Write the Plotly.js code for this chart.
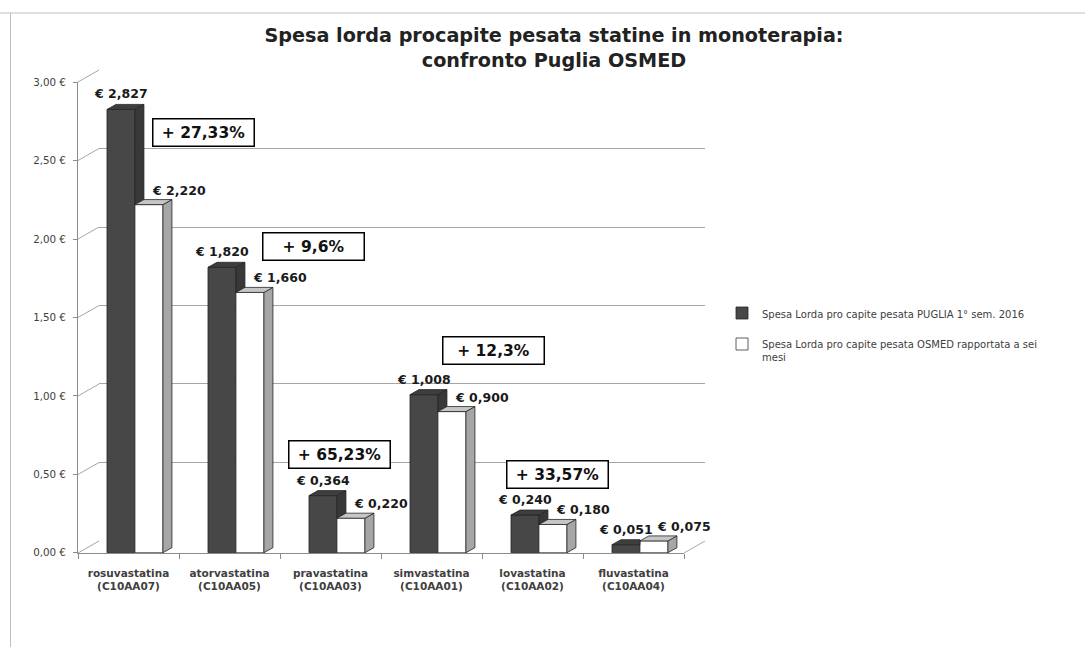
<!DOCTYPE html>
<html>
<head>
<meta charset="utf-8">
<script src="https://cdn.plot.ly/plotly-3.0.1.min.js"></script>
<style>html,body{margin:0;padding:0;background:#fff;}#chart{width:1085px;height:647px;}</style>
</head>
<body>
<div id="chart"></div>
<script>
// ---------- data ----------
const drugs = ['rosuvastatina', 'atorvastatina', 'pravastatina', 'simvastatina', 'lovastatina', 'fluvastatina'];
const atcCodes = ['C10AA07', 'C10AA05', 'C10AA03', 'C10AA01', 'C10AA02', 'C10AA04'];
const puglia = [2.827, 1.820, 0.364, 1.008, 0.240, 0.051];
const osmed = [2.220, 1.660, 0.220, 0.900, 0.180, 0.075];
const diffLabels = ['+ 27,33%', '+ 9,6%', '+ 65,23%', '+ 12,3%', '+ 33,57%', '- 32,25%'];
const seriesNames = ['Spesa Lorda pro capite pesata PUGLIA 1° sem. 2016',
                     'Spesa Lorda pro capite pesata OSMED rapportata a sei<br>mesi'];
const yTicks = [0, 0.5, 1, 1.5, 2, 2.5, 3];
const yTickText = ['0,00 €', '0,50 €', '1,00 €', '1,50 €', '2,00 €', '2,50 €', '3,00 €'];

// ---------- layout constants (pixels / offsets) ----------
const W = 1085, H = 647;
const FRONT = {x0: 78, x1: 684, y0: 553, y1: 82};
const BACK = {x0: 99, x1: 705, y0: 541, y1: 70};
const BAR_W = 0.277, OFF_A = -0.213, OFF_B = 0.064;
const DX = 0.089, DY = 0.032;           // depth of bars in data units
const diffBoxX = [0.747, 1.827, 2.094, 3.609, 4.243, 5.748];
const diffBoxY = [2.68, 1.955, 0.625, 1.287, 0.497, 0.331];

const px = v => v / W;
const py = v => 1 - v / H;
const idx = drugs.map((d, i) => i);
const fmtEuro = v => '€ ' + v.toFixed(3).replace('.', ',');

// ---------- 3D faces built from the data ----------
function faces() {
  const aTop = {x: [], y: []}, aSide = {x: [], y: []}, bTop = {x: [], y: []}, bSide = {x: [], y: []};
  const push = (o, pts) => {
    pts.concat([pts[0]]).forEach(p => { o.x.push(p[0]); o.y.push(p[1]); });
    o.x.push(null); o.y.push(null);
  };
  idx.forEach(i => {
    const v = puglia[i], w = osmed[i];
    const al = i + OFF_A, ar = al + BAR_W;
    const bl = i + OFF_B, br = bl + BAR_W;
    if (v > w) {
      push(aTop, [[al, v], [al + DX, v + DY], [ar + DX, v + DY], [ar, v]]);
      push(aSide, [[ar, w], [ar + DX, w + DY], [ar + DX, v + DY], [ar, v]]);
    } else {
      push(aTop, [[al, v], [al + DX, v + DY], [ar, v + DY], [ar, v]]);
    }
    push(bSide, [[br, 0], [br + DX, DY], [br + DX, w + DY], [br, w]]);
    push(bTop, [[bl, w], [bl + DX, w + DY], [br + DX, w + DY], [br, w]]);
  });
  return {aTop, aSide, bTop, bSide};
}
const F = faces();
const faceTrace = (o, fill) => ({
  type: 'scatter', mode: 'lines', x: o.x, y: o.y, xaxis: 'x2', yaxis: 'y2',
  fill: 'toself', fillcolor: fill, line: {color: '#262626', width: 0.8},
  showlegend: false, hoverinfo: 'skip'
});

const data = [
  {type: 'scatter', x: [null], y: [null], xaxis: 'x', yaxis: 'y', showlegend: false, hoverinfo: 'skip'},
  {type: 'bar', name: seriesNames[0], legendgroup: 'a', x: idx, y: puglia, xaxis: 'x2', yaxis: 'y2',
   width: BAR_W, offset: OFF_A, marker: {color: '#474747', line: {color: '#262626', width: 0.8}}},
  {type: 'bar', name: seriesNames[1], legendgroup: 'b', x: idx, y: osmed, xaxis: 'x2', yaxis: 'y2',
   width: BAR_W, offset: OFF_B, marker: {color: '#ffffff', line: {color: '#333333', width: 0.8}}},
  faceTrace(F.aTop, '#3e3e3e'),
  faceTrace(F.aSide, '#383838'),
  faceTrace(F.bSide, '#a6a6a6'),
  faceTrace(F.bTop, '#c6c6c6')
];

// ---------- annotations ----------
const labelFont = {family: 'DejaVu Sans', size: 12.5, color: '#1a1a1a', weight: 'bold'};
const annotations = [];
idx.forEach(i => {
  annotations.push({xref: 'x2', yref: 'y2', x: i + OFF_A + BAR_W / 2, y: puglia[i], yanchor: 'bottom', yshift: 6,
    text: fmtEuro(puglia[i]), showarrow: false, font: labelFont});
  annotations.push({xref: 'x2', yref: 'y2', x: i + OFF_B + BAR_W / 2, y: osmed[i], yanchor: 'bottom', yshift: 5, xshift: 30,
    text: fmtEuro(osmed[i]), showarrow: false, font: labelFont});
  annotations.push({xref: 'x2', yref: 'y2', x: diffBoxX[i], y: diffBoxY[i], xanchor: 'center', yanchor: 'middle',
    text: diffLabels[i], showarrow: false, bgcolor: '#ffffff', bordercolor: '#000000', borderwidth: 1.5, borderpad: 4, width: 92,
    font: {family: 'DejaVu Sans', size: 15.5, color: '#111111', weight: 'bold'}});
});

// ---------- decorative wall edges ----------
const fy = t => py(FRONT.y0 + (FRONT.y1 - FRONT.y0) * t / 3);
const by = t => py(BACK.y0 + (BACK.y1 - BACK.y0) * t / 3);
const shapes = yTicks.map(t => ({type: 'line', xref: 'paper', yref: 'paper', x0: px(FRONT.x0), y0: fy(t), x1: px(BACK.x0), y1: by(t),
  line: {color: '#a6a6a6', width: 1}}));
shapes.push({type: 'line', xref: 'paper', yref: 'paper', x0: px(FRONT.x1), y0: fy(0), x1: px(BACK.x1), y1: by(0), line: {color: '#a6a6a6', width: 1}});
shapes.push({type: 'line', xref: 'paper', yref: 'paper', x0: 0, y0: py(13), x1: 1, y1: py(13), line: {color: '#c0c0c0', width: 1}});
shapes.push({type: 'line', xref: 'paper', yref: 'paper', x0: px(10.5), y0: py(13), x1: px(10.5), y1: 0, line: {color: '#c0c0c0', width: 1}});

const layout = {
  width: W, height: H,
  margin: {l: 0, r: 0, t: 0, b: 0},
  paper_bgcolor: '#ffffff', plot_bgcolor: 'rgba(0,0,0,0)',
  separators: ',.',
  barmode: 'overlay',
  title: {text: 'Spesa lorda procapite pesata statine in monoterapia:<br>confronto Puglia OSMED',
    x: px(554), xanchor: 'center', y: py(42), yanchor: 'middle', xref: 'paper', yref: 'container',
    font: {family: 'DejaVu Sans', size: 19.2, color: '#222222', weight: 'bold'}},
  xaxis: {domain: [px(BACK.x0), px(BACK.x1)], range: [-0.5, 5.5], visible: false, anchor: 'y', fixedrange: true},
  yaxis: {domain: [py(BACK.y0), py(BACK.y1)], range: [-0.002, 3.002], anchor: 'x', showgrid: true,
    gridcolor: '#a6a6a6', gridwidth: 1, tickvals: yTicks, showticklabels: false, ticks: '', zeroline: false, showline: false},
  xaxis2: {domain: [px(FRONT.x0), px(FRONT.x1)], range: [-0.5, 5.5], anchor: 'y2',
    tickmode: 'array', tickvals: idx, ticktext: drugs.map((d, i) => d + '<br>(' + atcCodes[i] + ')'),
    ticks: '', ticklabelstandoff: 10, showline: true, linecolor: '#8c8c8c', linewidth: 1, showgrid: false, zeroline: false,
    minor: {tickmode: 'array', tickvals: [-0.5, 0.5, 1.5, 2.5, 3.5, 4.5, 5.5], ticks: 'outside', ticklen: 5, tickcolor: '#8c8c8c', showgrid: false},
    tickfont: {family: 'DejaVu Sans', size: 10.5, color: '#404040', weight: 'bold'}},
  yaxis2: {domain: [py(FRONT.y0), py(FRONT.y1)], range: [-0.002, 3.002], anchor: 'x2',
    tickmode: 'array', tickvals: yTicks, ticktext: yTickText,
    ticks: 'outside', ticklen: 4, ticklabelstandoff: 5, tickcolor: '#8c8c8c', showline: true, linecolor: '#8c8c8c', linewidth: 1,
    showgrid: false, zeroline: false,
    tickfont: {family: 'DejaVu Sans', size: 10.3, color: '#404040'}},
  legend: {x: px(722), y: py(300), xanchor: 'left', yanchor: 'top', bgcolor: 'rgba(0,0,0,0)',
    traceorder: 'grouped', tracegroupgap: 12, valign: 'top',
    font: {family: 'DejaVu Sans', size: 10, color: '#404040'}},
  shapes: shapes,
  annotations: annotations
};

Plotly.newPlot('chart', data, layout, {displayModeBar: false, staticPlot: true});
</script>
</body>
</html>
